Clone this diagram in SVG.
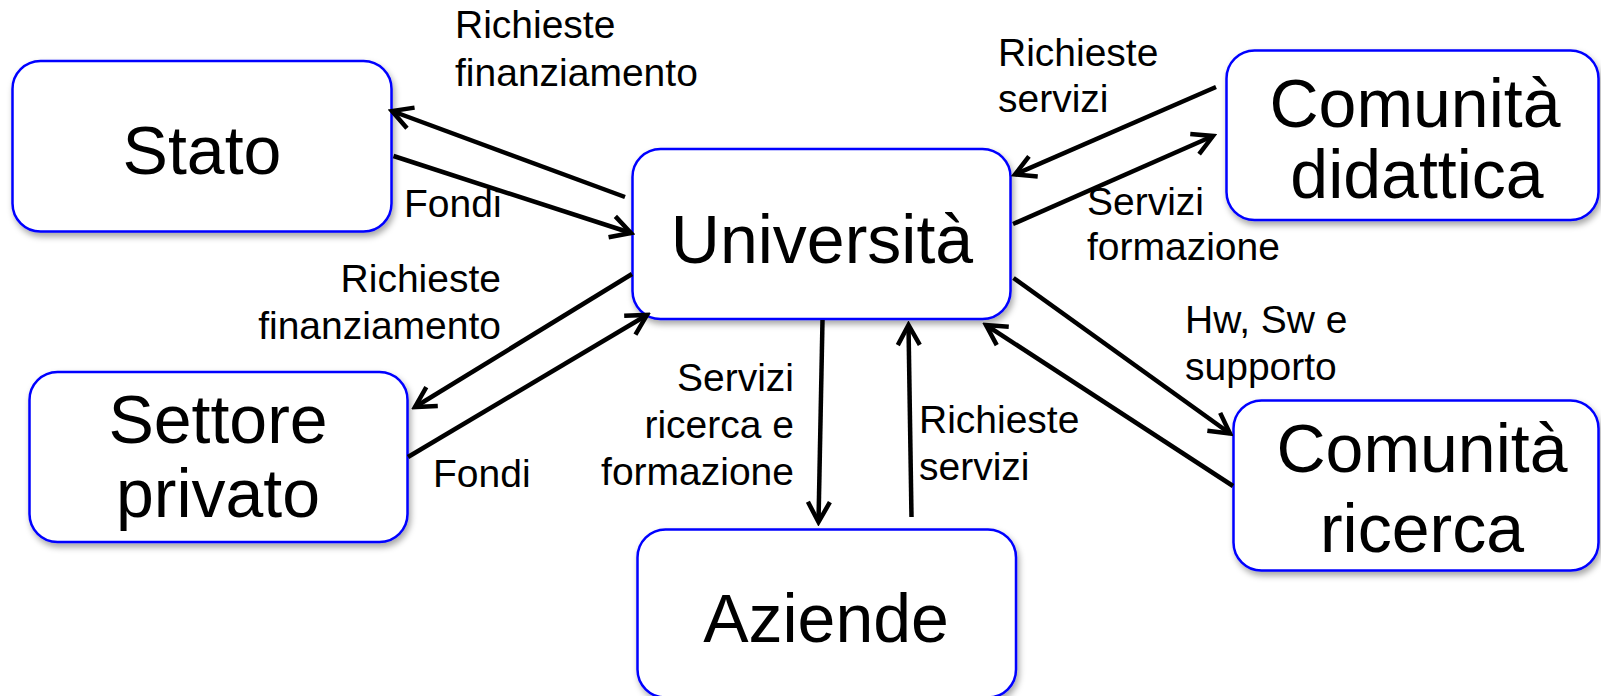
<svg xmlns="http://www.w3.org/2000/svg" width="1601" height="696" viewBox="0 0 1601 696">
<style>
.box{fill:#fff;stroke:#0000ff;stroke-width:2.5;filter:url(#sh)}
.nt{font-family:"Liberation Sans",Arial,sans-serif;font-size:68px;fill:#000;text-anchor:middle}
.lb{font-family:"Liberation Sans",Arial,sans-serif;font-size:39px;fill:#000}
.r{text-anchor:end}
.ln{stroke:#000;stroke-width:4.5;fill:none;marker-end:url(#ah)}
</style>
<defs>
<filter id="sh" x="-10%" y="-10%" width="125%" height="130%">
<feDropShadow dx="2" dy="4" stdDeviation="3" flood-color="#000" flood-opacity="0.35"/>
</filter>
<marker id="ah" markerUnits="userSpaceOnUse" viewBox="-26 -16 30 32" markerWidth="30" markerHeight="32" refX="0" refY="0" orient="auto">
<path d="M-20,-11 L0,0 L-20,11" fill="none" stroke="#000" stroke-width="4.5" stroke-linejoin="miter" stroke-linecap="butt"/>
</marker>
</defs>
<g id="stato"><rect class="box" x="12.5" y="61" width="379" height="170.5" rx="28"/><text class="nt" x="202" y="174">Stato</text></g>
<g id="universita"><rect class="box" x="632.5" y="149" width="378" height="170" rx="28"/><text class="nt" x="822" y="263">Università</text></g>
<g id="comunita-didattica"><rect class="box" x="1226.5" y="50.5" width="372" height="169.5" rx="28"/><text class="nt" x="1415" y="127">Comunità</text><text class="nt" x="1417" y="198">didattica</text></g>
<g id="settore-privato"><rect class="box" x="29.5" y="372" width="378" height="170" rx="28"/><text class="nt" x="218" y="443">Settore</text><text class="nt" x="218" y="517">privato</text></g>
<g id="comunita-ricerca"><rect class="box" x="1233.5" y="400.5" width="365" height="170" rx="28"/><text class="nt" x="1422" y="472">Comunità</text><text class="nt" x="1422" y="552">ricerca</text></g>
<g id="aziende"><rect class="box" x="637.5" y="529.5" width="378.5" height="168" rx="28"/><text class="nt" x="826" y="642">Aziende</text></g>
<g id="connectors">
<line class="ln" x1="625" y1="197" x2="392" y2="111"/>
<line class="ln" x1="393.5" y1="156" x2="631" y2="233"/>
<line class="ln" x1="632" y1="274" x2="415" y2="407"/>
<line class="ln" x1="408" y1="457" x2="647" y2="315"/>
<line class="ln" x1="1216" y1="87" x2="1015" y2="174.5"/>
<line class="ln" x1="1013" y1="224" x2="1213" y2="136"/>
<line class="ln" x1="1013.5" y1="278" x2="1230" y2="433.5"/>
<line class="ln" x1="1233" y1="486" x2="986" y2="325"/>
<line class="ln" x1="822.5" y1="320" x2="818.5" y2="522"/>
<line class="ln" x1="911.5" y1="517" x2="908.5" y2="325"/>
</g>
<g id="labels">
<text class="lb" x="455" y="38">Richieste</text>
<text class="lb" x="455" y="86">finanziamento</text>
<text class="lb" x="404" y="217">Fondi</text>
<text class="lb r" x="501" y="292">Richieste</text>
<text class="lb r" x="501" y="339">finanziamento</text>
<text class="lb" x="433" y="487">Fondi</text>
<text class="lb r" x="794" y="391">Servizi</text>
<text class="lb r" x="794" y="438">ricerca e</text>
<text class="lb r" x="794" y="485">formazione</text>
<text class="lb" x="919" y="433">Richieste</text>
<text class="lb" x="919" y="480">servizi</text>
<text class="lb" x="998" y="66">Richieste</text>
<text class="lb" x="998" y="112">servizi</text>
<text class="lb" x="1087" y="215">Servizi</text>
<text class="lb" x="1087" y="260">formazione</text>
<text class="lb" x="1185" y="333">Hw, Sw e</text>
<text class="lb" x="1185" y="380">supporto</text>
</g>
</svg>
